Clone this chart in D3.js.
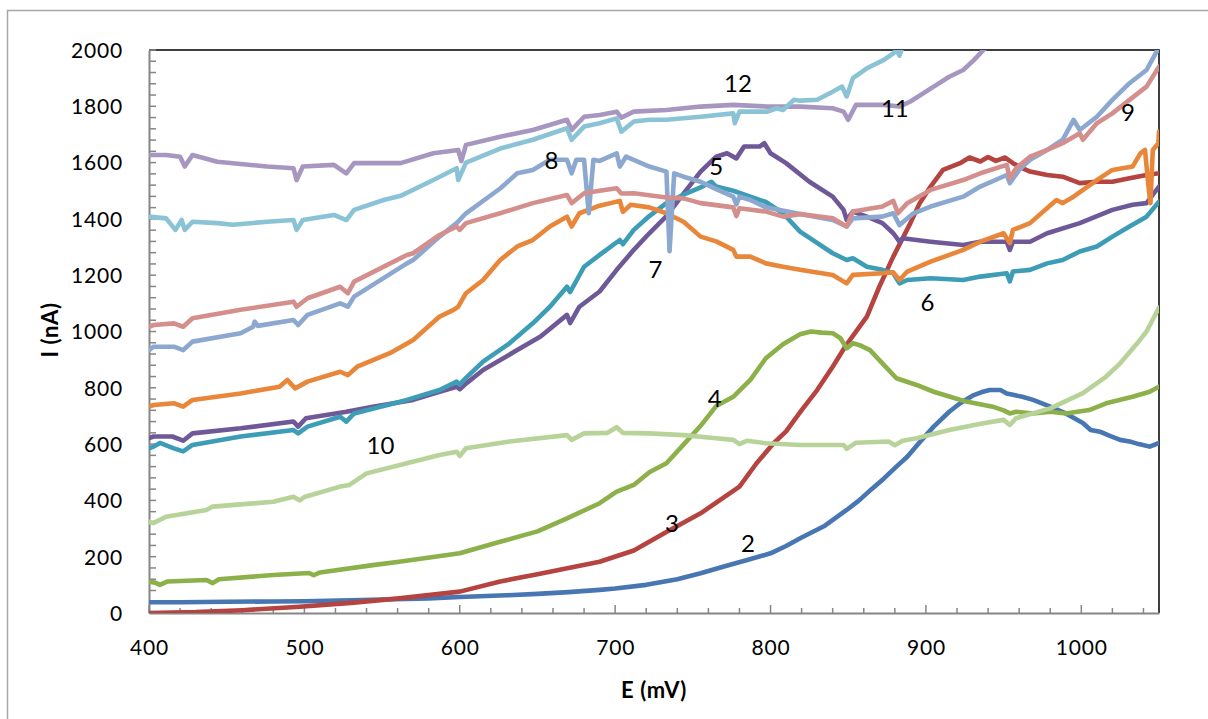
<!DOCTYPE html>
<html>
<head>
<meta charset="utf-8">
<script src="https://cdn.jsdelivr.net/npm/d3@7"></script>
<style>
  html, body { margin: 0; padding: 0; background: #fff; }
  svg { display: block; font-family: Lato, "Open Sans", sans-serif; }
</style>
</head>
<body>
<svg id="chart" width="1208" height="719"></svg>
<script>
// Voltammetric current I (nA) against potential E (mV), curves 2–12
const s2 = [[400,38],[420,38],[450,40],[480,41],[500,42],[530,45],[550,48],[580,52],[600,57],[630,63],[650,68],[670,74],[690,82],[700,87],[720,100],[740,120],[755,141],[770,165],[785,188],[800,212],[810,238],[820,268],[835,310],[849,366],[857,400],[865,440],[873,478],[881,520],[888,555],[895,600],[905,662],[915,715],[922,745],[930,772],[936,785],[941,792],[948,792],[952,780],[956,775],[962,768],[969,757],[980,733],[990,709],[1001,675],[1006,650],[1012,644],[1018,630],[1025,615],[1032,608],[1037,600],[1044,591],[1050,604]];
const s3 = [[400,0],[430,3],[460,10],[497,22],[530,36],[561,52],[600,76],[626,112],[650,138],[670,160],[690,182],[712,222],[733,288],[755,354],[780,449],[791,532],[802,603],[810,645],[820,721],[830,792],[840,875],[848,946],[862,1053],[870,1159],[879,1266],[890,1385],[896,1456],[903,1515],[911,1574],[922,1598],[928,1618],[935,1604],[940,1620],[945,1606],[951,1618],[956,1598],[962,1580],[967,1568],[978,1556],[988,1550],[999,1527],[1010,1532],[1020,1532],[1031,1544],[1042,1556],[1050,1562]];
const s4 = [[400,111],[404,108],[407,100],[412,112],[437,117],[441,106],[445,120],[480,135],[503,142],[506,134],[510,144],[544,170],[561,182],[600,212],[626,253],[650,290],[669,336],[690,390],[701,431],[712,455],[722,500],[733,532],[744,598],[755,665],[765,735],[776,768],[787,828],[797,905],[808,955],[819,990],[826,1000],[833,996],[840,994],[845,976],[849,940],[853,958],[858,950],[864,934],[872,887],[881,834],[894,810],[905,786],[915,769],[926,751],[943,733],[950,720],[954,709],[958,715],[969,709],[980,715],[990,709],[1005,721],[1016,745],[1033,768],[1044,786],[1050,804]];
const s5 = [[400,621],[403,627],[415,627],[422,612],[428,638],[459,656],[493,680],[496,662],[501,692],[527,715],[544,733],[570,757],[587,786],[598,804],[600,795],[604,815],[615,863],[637,934],[652,982],[669,1059],[671,1030],[677,1088],[690,1142],[701,1219],[712,1290],[722,1349],[733,1410],[744,1490],[755,1568],[765,1621],[772,1633],[778,1615],[783,1657],[793,1657],[796,1669],[800,1633],[810,1598],[825,1532],[840,1479],[847,1432],[849,1396],[853,1426],[862,1408],[872,1385],[879,1349],[883,1319],[885,1331],[903,1319],[924,1307],[935,1319],[952,1319],[954,1290],[956,1319],[967,1319],[978,1349],[999,1385],[1020,1432],[1033,1450],[1042,1456],[1050,1515]];
const s6 = [[400,585],[403,591],[407,604],[416,585],[422,574],[428,597],[459,627],[493,650],[496,638],[502,662],[523,697],[527,680],[532,709],[566,757],[587,792],[598,822],[600,812],[604,835],[615,893],[632,958],[647,1029],[658,1088],[669,1159],[671,1140],[680,1230],[690,1272],[703,1325],[705,1310],[712,1361],[722,1410],[733,1456],[746,1491],[755,1512],[762,1532],[765,1515],[776,1500],[787,1479],[797,1460],[808,1420],[819,1355],[840,1278],[849,1254],[853,1260],[862,1230],[872,1219],[879,1207],[883,1171],[888,1183],[903,1189],[924,1183],[935,1195],[952,1207],[954,1178],[956,1213],[967,1219],[978,1242],[988,1254],[999,1284],[1010,1302],[1020,1337],[1031,1373],[1042,1408],[1050,1461]];
const s7 = [[400,733],[403,739],[416,745],[422,733],[428,757],[459,780],[484,804],[489,828],[494,798],[502,822],[523,857],[528,845],[534,875],[555,923],[570,970],[587,1053],[596,1077],[599,1088],[604,1136],[615,1183],[626,1254],[637,1302],[647,1325],[658,1373],[669,1408],[672,1373],[677,1420],[690,1447],[703,1464],[705,1425],[710,1450],[722,1441],[733,1420],[744,1390],[755,1337],[765,1320],[776,1290],[778,1266],[787,1266],[797,1242],[808,1230],[819,1219],[840,1201],[849,1171],[853,1201],[872,1207],[879,1210],[883,1183],[888,1213],[903,1248],[924,1290],[935,1319],[950,1349],[954,1314],[956,1361],[967,1385],[984,1467],[988,1456],[995,1479],[1010,1538],[1020,1574],[1033,1586],[1038,1633],[1041,1645],[1043,1527],[1044.5,1456],[1046,1645],[1049.6,1669],[1050,1710]];
const s8 = [[400,934],[403,946],[416,946],[422,934],[428,964],[459,994],[467,1017],[468,1035],[470,1020],[493,1041],[496,1023],[502,1059],[523,1100],[528,1088],[532,1124],[566,1242],[570,1254],[587,1337],[598,1385],[604,1420],[626,1508],[637,1562],[647,1574],[658,1610],[669,1610],[672,1562],[675,1610],[680,1610],[683,1420],[686,1610],[690,1606],[701,1633],[703,1586],[707,1621],[722,1586],[733,1568],[735,1285],[738,1562],[744,1550],[755,1532],[765,1506],[776,1479],[778,1452],[780,1479],[787,1467],[797,1441],[819,1417],[840,1396],[849,1373],[853,1402],[872,1408],[879,1420],[883,1378],[892,1420],[903,1444],[924,1479],[935,1515],[952,1556],[954,1527],[960,1574],[967,1610],[978,1645],[988,1681],[995,1752],[999,1716],[1010,1763],[1020,1823],[1031,1882],[1042,1929],[1050,2010]];
const s9 = [[400,1017],[403,1023],[416,1029],[422,1017],[428,1047],[459,1077],[493,1106],[495,1088],[502,1118],[523,1159],[528,1136],[532,1177],[566,1272],[570,1278],[587,1343],[598,1373],[600,1361],[604,1385],[626,1420],[647,1456],[669,1485],[672,1456],[680,1491],[690,1500],[701,1509],[704,1490],[712,1491],[733,1476],[744,1473],[755,1456],[776,1441],[778,1410],[780,1438],[797,1426],[808,1408],[819,1417],[840,1402],[849,1373],[853,1426],[872,1444],[879,1464],[882,1420],[888,1456],[903,1503],[924,1538],[935,1562],[952,1592],[954,1544],[958,1580],[967,1621],[978,1645],[988,1669],[999,1704],[1001,1681],[1010,1740],[1020,1775],[1031,1823],[1042,1870],[1050,1941]];
const s10 = [[400,324],[403,320],[411,342],[437,366],[441,378],[480,395],[493,413],[497,400],[500,412],[523,449],[529,455],[540,496],[566,532],[587,561],[598,573],[600,558],[604,585],[632,609],[669,632],[672,615],[680,638],[695,640],[701,660],[705,640],[722,638],[744,632],[765,621],[776,615],[780,600],[785,612],[797,603],[819,597],[847,597],[849,583],[855,605],[876,609],[880,596],[885,612],[894,621],[915,650],[937,674],[950,686],[954,668],[958,692],[980,727],[1001,781],[1016,840],[1025,887],[1036,958],[1042,1000],[1050,1085]];
const s11 = [[400,1627],[411,1627],[420,1621],[423,1586],[428,1627],[444,1603],[476,1586],[493,1580],[495,1538],[499,1586],[519,1592],[527,1562],[532,1598],[562,1598],[583,1633],[599,1645],[601,1605],[604,1663],[626,1692],[647,1716],[669,1752],[672,1716],[680,1763],[690,1769],[701,1781],[704,1760],[712,1781],[733,1787],[755,1799],[776,1805],[798,1799],[819,1799],[840,1793],[847,1781],[850,1752],[855,1805],[873,1805],[883,1799],[890,1817],[905,1870],[915,1905],[924,1929],[931,1965],[937,2000],[945,2040]];
const s12 = [[400,1408],[411,1402],[417,1361],[421,1396],[423,1361],[428,1390],[444,1385],[454,1379],[476,1390],[493,1396],[495,1361],[499,1396],[519,1414],[527,1396],[532,1432],[551,1467],[562,1482],[583,1538],[598,1580],[599,1538],[604,1600],[626,1650],[647,1681],[669,1722],[672,1681],[680,1728],[690,1740],[701,1757],[704,1710],[712,1746],[722,1752],[733,1752],[755,1763],[776,1775],[777,1740],[780,1781],[798,1781],[804,1793],[808,1787],[815,1823],[819,1820],[830,1823],[840,1852],[846,1870],[849,1835],[853,1900],[862,1935],[873,1965],[879,1988],[881,2000],[883,1980],[886,2030]];

const seriesNames = ["2","3","4","5","6","7","8","9","10","11","12"];
const seriesData = [s2, s3, s4, s5, s6, s7, s8, s9, s10, s11, s12];
const seriesColors = ["#4776b2","#b5433f","#8cb04a","#6f5898","#3d9db6","#e8873a",
                      "#8da8d0","#d48f8d","#b8d399","#a797c0","#8bc3d6"];

// curve labels: name, E, I
const curveLabels = [["12",779,1883],["11",880,1794],["9",1030,1780],["8",659,1609],
                     ["5",765,1585],["7",726,1219],["6",901,1105],["4",764,764],
                     ["3",736.5,320],["2",785.5,249],["10",549,597]];

const xTicks = [400, 500, 600, 700, 800, 900, 1000];
const yTicks = [0, 200, 400, 600, 800, 1000, 1200, 1400, 1600, 1800, 2000];

const svg = d3.select("#chart");
const plotLeft = 149, plotRight = 1159, plotTop = 50, plotBottom = 613;

const x = d3.scaleLinear().domain([400, 1050]).range([plotLeft, plotRight]);
const y = d3.scaleLinear().domain([0, 2000]).range([plotBottom, plotTop]);

// outer chart frame
svg.append("rect").attr("x", 7.5).attr("y", 10.5).attr("width", 1230).attr("height", 760)
  .attr("fill", "none").attr("stroke", "#a6a6a6").attr("stroke-width", 1.5);

svg.append("defs").append("clipPath").attr("id", "plotclip")
  .append("rect").attr("x", plotLeft).attr("y", plotTop)
  .attr("width", plotRight - plotLeft).attr("height", plotBottom - plotTop);

// plot area border (top and right)
svg.append("path")
  .attr("d", `M${plotLeft},${plotTop}H${plotRight}V${plotBottom}`)
  .attr("fill", "none").attr("stroke", "#000").attr("stroke-width", 1.5);

// minor ticks
const axisColor = "#868686";
const gx = svg.append("g");
d3.range(400, 1051, 20).forEach(v => {
  const major = v % 100 === 0;
  gx.append("line").attr("x1", x(v)).attr("x2", x(v))
    .attr("y1", plotBottom).attr("y2", plotBottom - (major ? 8 : 5))
    .attr("stroke", axisColor).attr("stroke-width", 1.5);
});
const gy = svg.append("g");
d3.range(0, 2001, 40).forEach(v => {
  gy.append("line").attr("x1", plotLeft).attr("x2", plotLeft + 7)
    .attr("y1", y(v)).attr("y2", y(v))
    .attr("stroke", axisColor).attr("stroke-width", 1.5);
});

// axes lines and labels
const xAxis = d3.axisBottom(x).tickValues(xTicks).tickSize(0).tickPadding(27).tickFormat(d3.format("d"));
const yAxis = d3.axisLeft(y).tickValues(yTicks).tickSize(0).tickPadding(26).tickFormat(d3.format("d"));

const ax = svg.append("g").attr("transform", `translate(0,${plotBottom})`).call(xAxis);
const ay = svg.append("g").attr("transform", `translate(${plotLeft},0)`).call(yAxis);
[ax, ay].forEach(g => {
  g.select(".domain").attr("stroke", axisColor).attr("stroke-width", 2);
  g.selectAll("text").attr("font-size", 21).attr("fill", "#000")
    .attr("letter-spacing", "0.8px")
    .attr("font-family", "Lato, sans-serif");
});
ay.selectAll("text").attr("dy", "0.35em");

// series lines
const line = d3.line().x(d => x(d[0])).y(d => y(d[1]));
const plot = svg.append("g").attr("clip-path", "url(#plotclip)");
seriesData.forEach((data, i) => {
  plot.append("path").datum(data)
    .attr("d", line)
    .attr("fill", "none")
    .attr("stroke", seriesColors[i])
    .attr("stroke-width", 4.6)
    .attr("stroke-linejoin", "round")
    .attr("stroke-linecap", "round");
});

// curve numbers
svg.append("g").selectAll("text").data(curveLabels).join("text")
  .attr("x", d => x(d[1])).attr("y", d => y(d[2]))
  .attr("text-anchor", "middle").attr("dy", "0.36em")
  .attr("font-size", 24).attr("fill", "#000")
  .text(d => d[0]);

// axis titles
svg.append("text").attr("x", (plotLeft + plotRight) / 2).attr("y", 690)
  .attr("text-anchor", "middle").attr("dy", "0.35em")
  .attr("font-size", 22).attr("font-weight", "bold").attr("letter-spacing", "0.6px").text("E (mV)");
svg.append("text").attr("transform", "translate(50,330) rotate(-90)")
  .attr("text-anchor", "middle").attr("dy", "0.35em")
  .attr("font-size", 22).attr("font-weight", "bold").attr("letter-spacing", "0.6px").text("I (nA)");
</script>
</body>
</html>
